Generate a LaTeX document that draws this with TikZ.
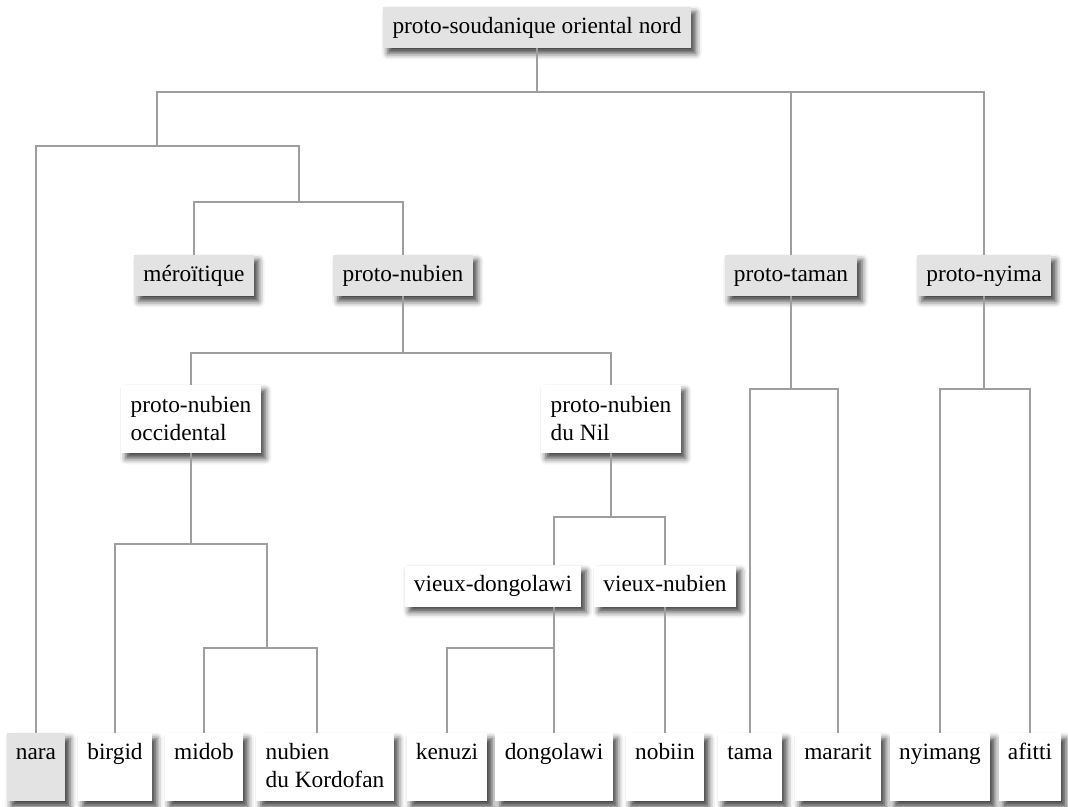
\documentclass[tikz,border=0pt]{standalone}
\usepackage{fontspec}
\setmainfont{Liberation Serif}
\usepackage{tikz}
\usetikzlibrary{shadows.blur}
\definecolor{boxgray}{HTML}{E3E3E3}
\definecolor{linegray}{HTML}{9E9E9E}

\begin{document}
\begin{tikzpicture}[
    x=0.75pt, y=-0.75pt,
    font=\fontsize{17.5}{21}\selectfont,
    box/.style={fill=white, inner xsep=7pt, inner ysep=7pt,
                blur shadow={shadow xshift=3.5pt, shadow yshift=-4pt,
                             shadow blur radius=4.5pt, shadow opacity=75}},
    protobox/.style={box, fill=boxgray, text height=12.5pt, text depth=4.25pt},
    namebox/.style={box, text height=12.5pt, text depth=4.25pt},
    twoline/.style={box, align=left, minimum height=51pt},
    leafbox/.style={box, anchor=north, text height=12.5pt, text depth=24.5pt},
    branch/.style={draw=linegray, line width=1.6pt}
]
\useasboundingbox (0,0) rectangle (1068,807);

% inner nodes
\node[protobox] (root) at (537,27.5) {proto-soudanique oriental nord};
\node[protobox] (mero) at (194,275.5) {méroïtique};
\node[protobox] (pnub) at (403,275.5) {proto-nubien};
\node[protobox] (ptaman) at (791,275.5) {proto-taman};
\node[protobox] (pnyima) at (984,275.5) {proto-nyima};
\node[twoline] (pnocc) at (191,419) {proto-nubien\\occidental};
\node[twoline] (pnnil) at (611,419) {proto-nubien\\du Nil};
\node[namebox] (vdong) at (493,586) {vieux-dongolawi};
\node[namebox] (vnub) at (665,586) {vieux-nubien};

% languages
\node[leafbox, fill=boxgray] (nara) at (36,733) {nara};
\node[leafbox] (birgid) at (115,733) {birgid};
\node[leafbox] (midob) at (204,733) {midob};
\node[leafbox, align=left, text height=33.5pt, text depth=3.5pt] (kordofan) at (325,733) {nubien\\du Kordofan};
\node[leafbox] (kenuzi) at (447,733) {kenuzi};
\node[leafbox] (dongolawi) at (554,733) {dongolawi};
\node[leafbox] (nobiin) at (665,733) {nobiin};
\node[leafbox] (tama) at (750,733) {tama};
\node[leafbox] (mararit) at (838,733) {mararit};
\node[leafbox] (nyimang) at (940,733) {nyimang};
\node[leafbox] (afitti) at (1030,733) {afitti};

% junctions
\coordinate (jtop) at (root.south |- 0,92);
\coordinate (j1) at (157,146);
\coordinate (j2) at (299,202);
\coordinate (jnub) at (pnub.south |- 0,353);
\coordinate (jocc) at (pnocc.south |- 0,544);
\coordinate (j3) at (267,648);
\coordinate (jnil) at (pnnil.south |- 0,517);
\coordinate (jdong) at (dongolawi.north |- 0,648);
\coordinate (jtam) at (ptaman.south |- 0,389);
\coordinate (jnyi) at (pnyima.south |- 0,389);

\draw[branch] (root.south) -- (jtop);
\draw[branch] (j1) -- (j1 |- jtop) -| (pnyima.north);
\draw[branch] (ptaman.north) -- (ptaman.north |- jtop);
\draw[branch] (nara.north) |- (j1) -| (j2);
\draw[branch] (mero.north) |- (j2) -| (pnub.north);

\draw[branch] (pnub.south) -- (jnub);
\draw[branch] (pnocc.north) |- (jnub) -| (pnnil.north);
\draw[branch] (pnocc.south) -- (jocc);
\draw[branch] (birgid.north) |- (jocc) -| (j3);
\draw[branch] (midob.north) |- (j3) -| ([xshift=-6pt]kordofan.north);

\draw[branch] (pnnil.south) -- (jnil);
\draw[branch] (vdong.north -| dongolawi) |- (jnil) -| (vnub.north);
\draw[branch] (vdong.south -| dongolawi) -- (dongolawi.north);
\draw[branch] (kenuzi.north) |- (jdong);
\draw[branch] (vnub.south) -- (nobiin.north);

\draw[branch] (ptaman.south) -- (jtam);
\draw[branch] (tama.north) |- (jtam) -| (mararit.north);
\draw[branch] (pnyima.south) -- (jnyi);
\draw[branch] (nyimang.north) |- (jnyi) -| (afitti.north);
\end{tikzpicture}
\end{document}
